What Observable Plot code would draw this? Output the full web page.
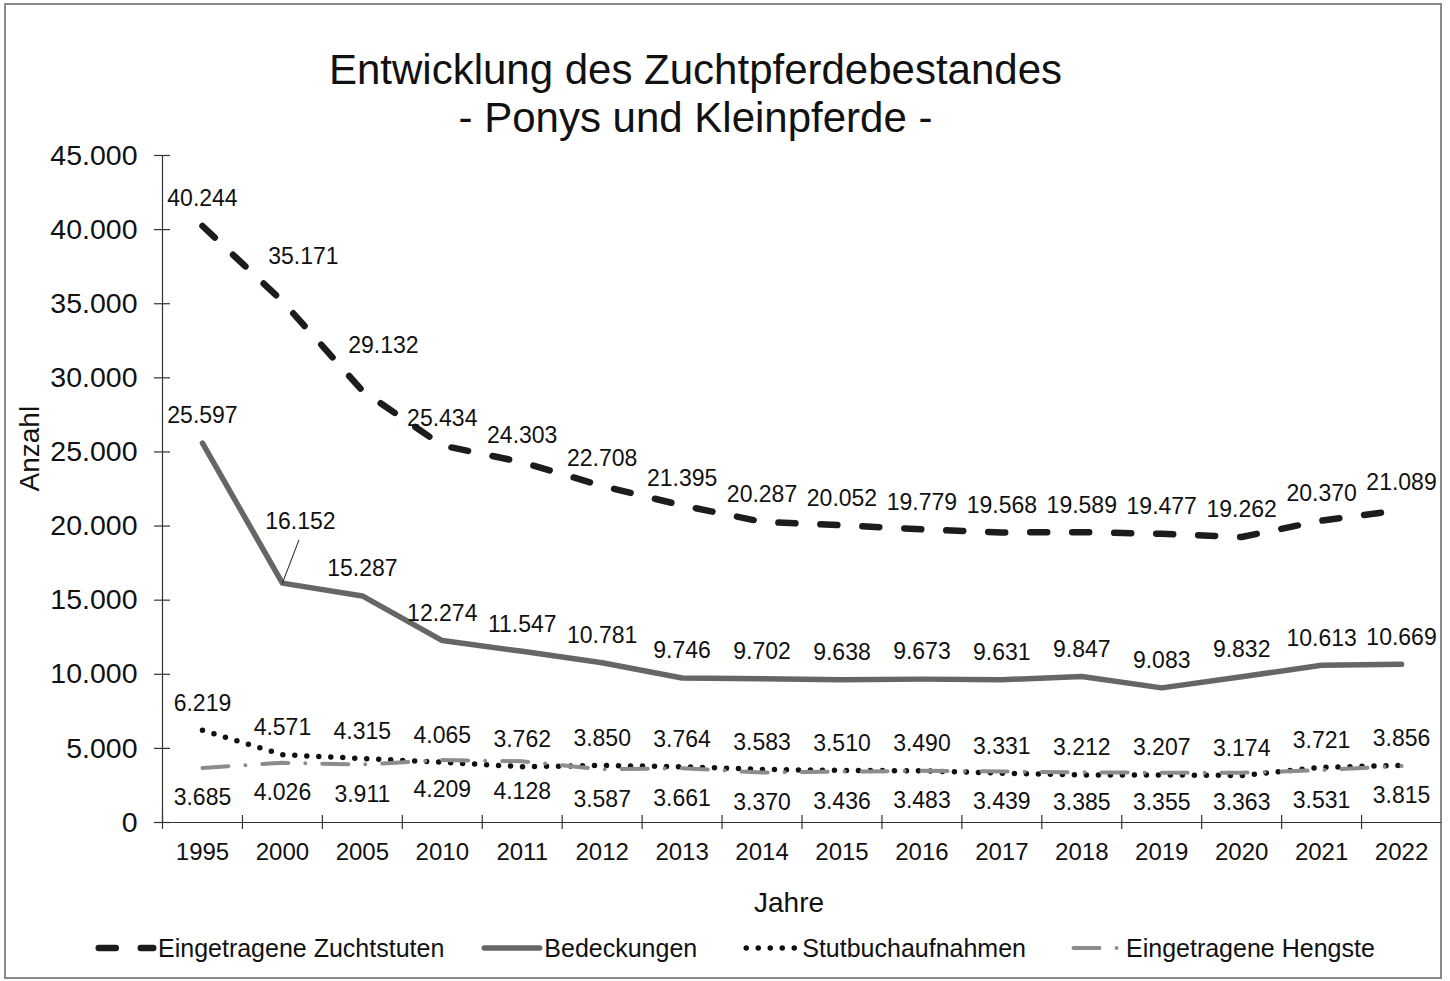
<!DOCTYPE html>
<html><head><meta charset="utf-8">
<script src="https://cdn.jsdelivr.net/npm/d3@7"></script>
<script src="https://cdn.jsdelivr.net/npm/@observablehq/plot@0.6"></script>
<style>
body{margin:0;background:#fff;font-family:"Liberation Sans",Arial,sans-serif;}
#wrap{position:relative;width:1450px;height:981px;overflow:hidden;background:#fff;}
#frame{position:absolute;left:4px;top:3px;width:1434px;height:972px;border:2px solid #8a8a8a;}
#title{position:absolute;left:0;top:46px;width:1391px;text-align:center;font-size:42px;line-height:48px;color:#111;}
#chart{position:absolute;left:0;top:140px;}
#legend{position:absolute;left:95px;top:930px;display:flex;align-items:center;font-size:25px;height:36px;color:#111;white-space:nowrap;}
#legend .item{display:flex;align-items:center;}
#legend svg{display:block;}
</style></head>
<body>
<div id="wrap">
  <div id="frame"></div>
  <div id="title">Entwicklung des Zuchtpferdebestandes<br>- Ponys und Kleinpferde -</div>
  <div id="chart"></div>
  <div id="legend"></div>
</div>
<script>
const years = ["1995","2000","2005","2010","2011","2012","2013","2014","2015","2016","2017","2018","2019","2020","2021","2022"];
const zuchtstuten = [40244,35171,29132,25434,24303,22708,21395,20287,20052,19779,19568,19589,19477,19262,20370,21089];
const bedeckungen = [25597,16152,15287,12274,11547,10781,9746,9702,9638,9673,9631,9847,9083,9832,10613,10669];
const stutbuch = [6219,4571,4315,4065,3762,3850,3764,3583,3510,3490,3331,3212,3207,3174,3721,3856];
const hengste = [3685,4026,3911,4209,4128,3587,3661,3370,3436,3483,3439,3385,3355,3363,3531,3815];
const yTicks = [0,5000,10000,15000,20000,25000,30000,35000,40000,45000];
const seriesNames = ["Eingetragene Zuchtstuten","Bedeckungen","Stutbuchaufnahmen","Eingetragene Hengste"];

const de = d3.formatLocale({decimal:",", thousands:".", grouping:[3], currency:["",""]});
const fmt = de.format(",");

const toRows = (vals) => vals.map((v, i) => ({i, year: years[i], v, drop: i > 0 ? vals[i - 1] - v : 0}));
const rZ = toRows(zuchtstuten), rB = toRows(bedeckungen), rS = toRows(stutbuch), rH = toRows(hengste);

// label placement rule: steep drops push the label up and to the right
const steep = d => d.drop > 4000;

const styles = [
  {rows: rZ, stroke: "#1c1c1c", strokeWidth: 6.5, strokeDasharray: "17,25", strokeLinecap: "round",
   dx: d => steep(d) ? 21 : 0, dy: d => steep(d) ? -45 : -27},
  {rows: rB, stroke: "#666666", strokeWidth: 5.5, strokeDasharray: null, strokeLinecap: "round",
   dx: d => steep(d) ? 18 : 0, dy: d => steep(d) ? -61 : -27},
  {rows: rS, stroke: "#111111", strokeWidth: 5.5, strokeDasharray: "0,12", strokeLinecap: "round",
   dx: () => 0, dy: () => -27},
  {rows: rH, stroke: "#8c8c8c", strokeWidth: 4, strokeDasharray: "26,17,0,17", strokeLinecap: "round",
   dx: () => 0, dy: () => 30}
];

const catBounds = d3.range(-0.5, years.length, 1).slice(0, years.length);

const marks = [];
// axes
marks.push(Plot.ruleX([-0.5], {y1: 0, y2: 45000, stroke: "#333", strokeWidth: 1.2}));
marks.push(Plot.ruleY([0], {x1: -0.5, x2: years.length - 0.5, stroke: "#333", strokeWidth: 1.2}));
marks.push(Plot.ruleY(yTicks, {y: d => d, x1: -0.5, x2: -0.5, insetLeft: -8, insetRight: -8, stroke: "#333", strokeWidth: 1.2}));
marks.push(Plot.ruleX(catBounds, {x: d => d, y1: 0, y2: 0, insetTop: -7, insetBottom: -7, stroke: "#333", strokeWidth: 1.2}));
marks.push(Plot.text(yTicks, {x: -0.5, y: d => d, text: d => fmt(d), textAnchor: "end", dx: -25, fontSize: 28.5, fill: "#111"}));
marks.push(Plot.text(years, {x: (d, i) => i, y: 0, text: d => d, dy: 30, fontSize: 24, fill: "#111"}));
marks.push(Plot.text(["Anzahl"], {frameAnchor: "left", dx: -132, dy: 2.5, rotate: -90, fontSize: 28, fill: "#111"}));
marks.push(Plot.text(["Jahre"], {frameAnchor: "bottom", dx: -13, dy: 89, fontSize: 28, fill: "#111"}));
// lines
for (const s of styles) {
  marks.push(Plot.line(s.rows, {x: "i", y: "v", stroke: s.stroke, strokeWidth: s.strokeWidth,
    strokeDasharray: s.strokeDasharray || undefined, strokeLinecap: s.strokeLinecap, strokeLinejoin: "round"}));
}
// leader line for the displaced Bedeckungen label
marks.push(Plot.vector(rB.filter(steep), {x: "i", y: "v", length: 46, rotate: 21, anchor: "start",
  stroke: "#222", strokeWidth: 1,
  shape: {draw(context, l) { context.moveTo(0, 0); context.lineTo(0, -l); }}}));
// labels
for (const s of styles) {
  for (const grp of [s.rows.filter(steep), s.rows.filter(d => !steep(d))]) {
    if (!grp.length) continue;
    marks.push(Plot.text(grp, {x: "i", y: "v", text: d => fmt(d.v), dx: s.dx(grp[0]), dy: s.dy(grp[0]), fontSize: 23, fill: "#111"}));
  }
}

const chart = Plot.plot({
  width: 1450,
  height: 785,
  marginLeft: 162,
  marginRight: 9,
  marginTop: 15,
  marginBottom: 103,
  style: {fontFamily: "'Liberation Sans', Arial, sans-serif", background: "transparent", overflow: "visible"},
  x: {type: "linear", domain: [-0.5, years.length - 0.5], axis: null},
  y: {type: "linear", domain: [0, 45000], axis: null},
  marks
});
document.getElementById("chart").appendChild(chart);

// legend
const leg = document.getElementById("legend");
const legSpec = [
  {w: 62, gapAfter: 37, textGap: 1},
  {w: 62, gapAfter: 46, textGap: 1},
  {w: 56, gapAfter: 45, textGap: 3},
  {w: 50, gapAfter: 0, textGap: 5}
];
seriesNames.forEach((name, k) => {
  const s = styles[k];
  const item = document.createElement("div");
  item.className = "item";
  item.style.marginRight = legSpec[k].gapAfter + "px";
  const ns = "http://www.w3.org/2000/svg";
  const svg = document.createElementNS(ns, "svg");
  svg.setAttribute("width", legSpec[k].w);
  svg.setAttribute("height", 20);
  const ln = document.createElementNS(ns, "line");
  const pad = s.strokeLinecap === "round" ? s.strokeWidth / 2 + 0.5 : 0;
  ln.setAttribute("x1", pad);
  ln.setAttribute("x2", legSpec[k].w - pad);
  ln.setAttribute("y1", 10);
  ln.setAttribute("y2", 10);
  ln.setAttribute("stroke", s.stroke);
  ln.setAttribute("stroke-width", s.strokeWidth);
  ln.setAttribute("stroke-linecap", s.strokeLinecap);
  if (s.strokeDasharray) ln.setAttribute("stroke-dasharray", s.strokeDasharray);
  svg.appendChild(ln);
  item.appendChild(svg);
  const t = document.createElement("span");
  t.textContent = name;
  t.style.marginLeft = legSpec[k].textGap + "px";
  item.appendChild(t);
  leg.appendChild(item);
});
</script>
</body></html>
